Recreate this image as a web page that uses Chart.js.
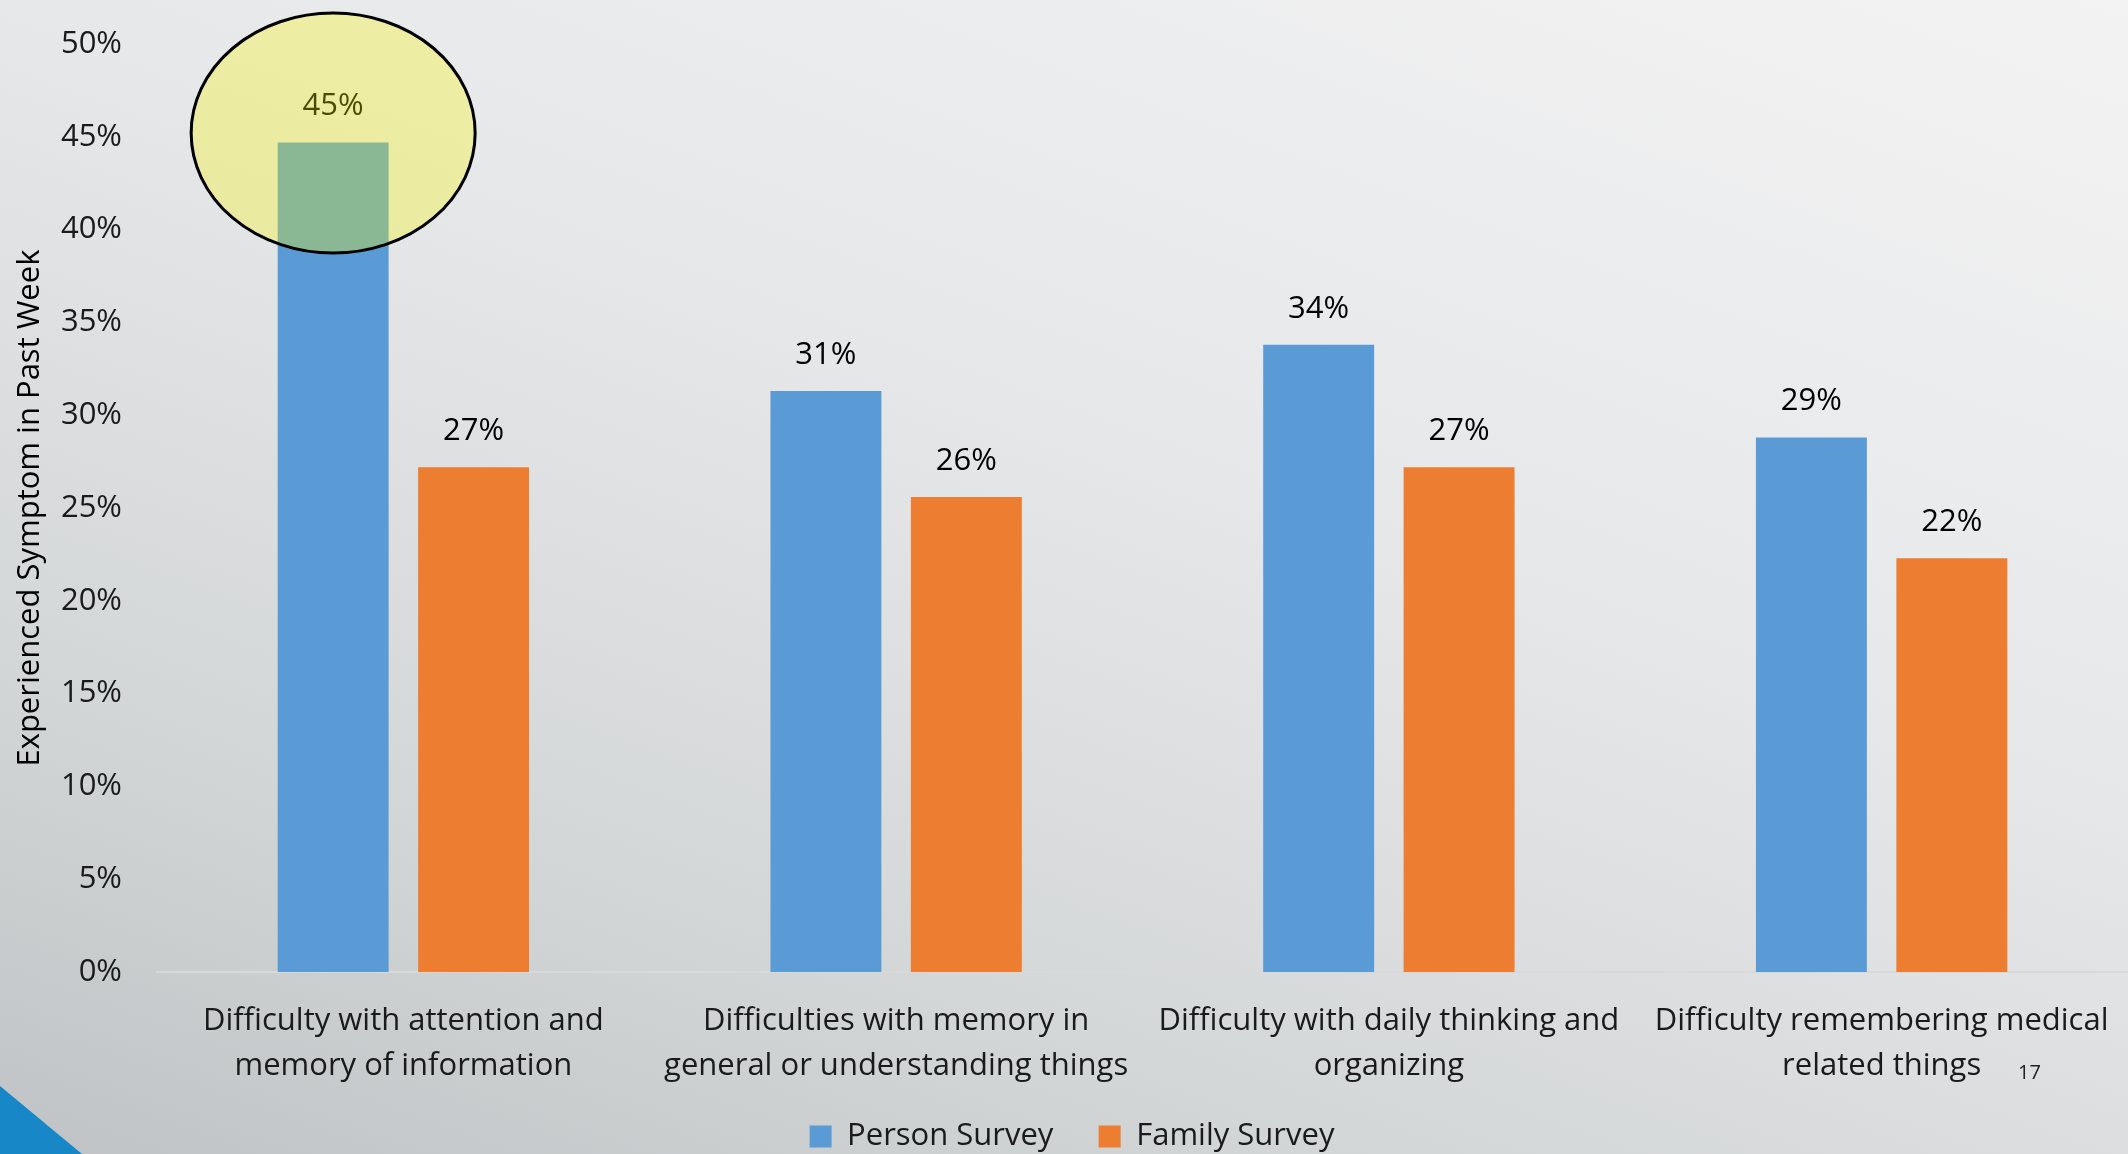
<!DOCTYPE html>
<html>
<head>
<meta charset="utf-8">
<script src="https://cdn.jsdelivr.net/npm/chart.js@4.4.0/dist/chart.umd.min.js"></script>
<style>
html,body{margin:0;padding:0;}
body{width:2128px;height:1154px;overflow:hidden;position:relative;
  background:linear-gradient(200deg,#f3f3f4 0%,#e7e8e9 40%,#d3d6d7 75%,#bfc3c5 100%);}
#chartBox{position:absolute;left:0;top:0;width:2128px;height:1154px;}
#corner{position:absolute;left:0;bottom:0;width:82px;height:68px;background:#1787c7;
  clip-path:polygon(0 0,100% 100%,0 100%);}
#pageNo{position:absolute;left:2018px;top:1058px;font:20px 'Open Sans',sans-serif;color:#222;}
</style>
</head>
<body>
<div id="chartBox"><canvas id="surveyChart" width="2128" height="1154"></canvas></div>
<div id="corner"></div>
<div id="pageNo">17</div>
<script>
const categories = [
    ['Difficulty with attention and', 'memory of information'],
    ['Difficulties with memory in', 'general or understanding things'],
    ['Difficulty with daily thinking and', 'organizing'],
    ['Difficulty remembering medical', 'related things']
];
const personSurvey = [44.7, 31.3, 33.8, 28.8];
const familySurvey = [27.2, 25.6, 27.2, 22.3];
const seriesNames = ['Person Survey', 'Family Survey'];
const yTitle = 'Experienced Symptom in Past Week';

// highlighted bar (yellow ellipse) and the value the ellipse is centred on
const highlightDataset = 0;
const highlightIndex = 0;
const highlightCenter = 45.2;

Chart.defaults.font.family = "'Open Sans', sans-serif";

// value labels above bars, then the yellow ellipse on top
const barLabels = {
    id: 'barLabels',
    afterDatasetsDraw(chart){
        const ctx = chart.ctx;
        ctx.save();
        ctx.font = "31px 'Open Sans', sans-serif";
        ctx.fillStyle = '#000';
        ctx.textAlign = 'center';
        ctx.textBaseline = 'middle';
        chart.data.datasets.forEach((ds, i) => {
            chart.getDatasetMeta(i).data.forEach((bar, j) => {
                ctx.fillText(Math.round(ds.data[j]) + '%', bar.x, bar.y - 36);
            });
        });
        const bar = chart.getDatasetMeta(highlightDataset).data[highlightIndex];
        const cy = chart.scales.y.getPixelForValue(highlightCenter);
        ctx.beginPath();
        ctx.ellipse(bar.x, cy, 142, 120, 0, 0, Math.PI * 2);
        ctx.fillStyle = 'rgba(248,248,0,0.30)';
        ctx.fill();
        ctx.lineWidth = 3;
        ctx.strokeStyle = '#000';
        ctx.stroke();
        ctx.restore();
    }
};

const ctx = document.getElementById('surveyChart').getContext('2d');
new Chart(ctx, {
    type: 'bar',
    data: {
        labels: categories,
        datasets: [
            {label: seriesNames[0], data: personSurvey, backgroundColor: '#5b9bd5',
             categoryPercentage: 0.57, barPercentage: 0.79},
            {label: seriesNames[1], data: familySurvey, backgroundColor: '#ed7d31',
             categoryPercentage: 0.57, barPercentage: 0.79}
        ]
    },
    options: {
        responsive: false,
        animation: false,
        layout: {padding: {top: 44, right: -8, left: 8, bottom: -8}},
        scales: {
            x: {
                afterFit(scale){ scale.paddingLeft = 0; scale.paddingRight = 0; },
                grid: {display: false, drawTicks: false},
                border: {color: '#d9d9d9', width: 2},
                ticks: {color: '#1a1a1a', font: {size: 31, lineHeight: 1.45}, padding: 27,
                        maxRotation: 0, autoSkip: false}
            },
            y: {
                min: 0, max: 50,
                afterFit(scale){ scale.width = 149; scale.paddingTop = 0; scale.paddingBottom = 0; },
                grid: {display: false, drawTicks: false},
                border: {display: false},
                ticks: {stepSize: 5, callback: v => v + '%', color: '#1a1a1a',
                        font: {size: 31}, padding: 35},
                title: {display: true, text: yTitle, color: '#000',
                        font: {size: 31}, padding: {bottom: 4}}
            }
        },
        plugins: {
            legend: {
                position: 'bottom',
                labels: {
                    boxWidth: 22, boxHeight: 22, color: '#1a1a1a',
                    font: {size: 31}, padding: 5,
                    generateLabels(chart){
                        const items = Chart.defaults.plugins.legend.labels.generateLabels(chart);
                        items.forEach((it, i) => { if (i < items.length - 1) it.text += '     '; });
                        return items;
                    }
                }
            },
            tooltip: {enabled: false}
        }
    },
    plugins: [barLabels]
});
</script>
</body>
</html>
